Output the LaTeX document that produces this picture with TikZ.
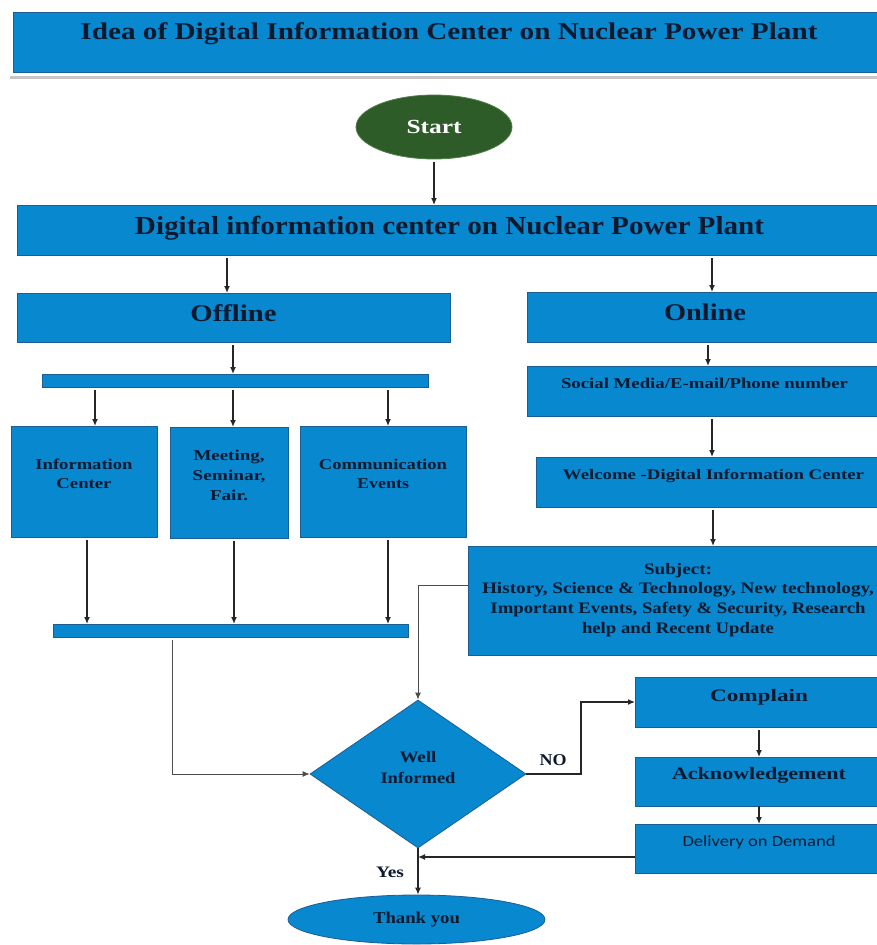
\documentclass[tikz,border=0pt]{standalone}
\usepackage{fontspec}
\setmainfont{Liberation Serif}
\newfontfamily\calfont{Carlito}
\usepackage{graphicx}
\usetikzlibrary{shapes.geometric,arrows.meta}
\definecolor{blu}{HTML}{0788CF}
\definecolor{bordc}{HTML}{1B5E93}
\definecolor{tcol}{HTML}{0C1A30}
\definecolor{grn}{HTML}{2E5C28}
\definecolor{grnb}{HTML}{4F7F48}
\newcommand\rz[2]{\resizebox{#1pt}{\height}{#2}}
\newcommand\fsz[2]{\fontsize{#1pt}{#2pt}\selectfont}
\begin{document}
\begin{tikzpicture}[x=1pt,y=-1pt,
 box/.style={draw=bordc, line width=0.8pt, fill=blu, inner sep=0pt, outer sep=0pt, text=tcol, anchor=north west},
 arr/.style={draw=black!85, line width=1.3pt, shorten <=3pt, -{Latex[length=7pt,width=6pt]}},
 lbl/.style={inner sep=0pt, text=tcol, anchor=base}]
\useasboundingbox (0,0) rectangle (877,945);
\fill[white] (0,0) rectangle (877,945);
\clip (0,0) rectangle (877,945);

% column / row helper coordinates
\coordinate (c87) at (87,0);
\coordinate (c95) at (95,0);
\coordinate (c172) at (172,0);
\coordinate (c227) at (227,0);
\coordinate (c233) at (233,0);
\coordinate (c234) at (234,0);
\coordinate (c388) at (388,0);
\coordinate (c581) at (581,0);
\coordinate (c708) at (708,0);
\coordinate (c712) at (712,0);
\coordinate (c713) at (713,0);
\coordinate (y585) at (0,585);
\coordinate (y857) at (0,857);

% title
\node[box, minimum width=872pt, text height=27pt, text depth=33pt, font=\bfseries\fsz{24}{28}] (title) at (13,12)
  {\rz{737}{Idea of Digital Information Center on Nuclear Power Plant}};
\draw[line width=3pt, black!22] ([yshift=-5pt,xshift=-3pt]title.south west) -- ([yshift=-5pt]title.south east);

% start
\node[ellipse, draw=grnb, line width=0.8pt, fill=grn, minimum width=156pt, minimum height=64pt, inner sep=0pt,
      text=white, font=\bfseries\fsz{20}{24}] (start) at (434,127) {\rz{55}{Start}};

% main bar
\node[box, minimum width=865pt, text height=29pt, text depth=21pt, font=\bfseries\fsz{26}{30}] (main) at (17,205)
  {\rz{629}{Digital information center on Nuclear Power Plant}};

% offline branch
\node[box, minimum width=433pt, text height=28pt, text depth=21pt, font=\bfseries\fsz{24}{28}] (offline) at (17,293) {\rz{86}{Offline}};
\node[box, minimum width=386pt, text height=13pt, text depth=0pt] (bar1) at (42,374) {};
\node[box, minimum width=146pt, text height=43pt, text depth=68pt, font=\bfseries\fsz{15}{19}] (info) at (11,426)
  {\begin{tabular}[t]{@{}c@{}}\rz{97}{Information}\\\rz{55}{Center}\end{tabular}};
\node[box, minimum width=118pt, text height=33pt, text depth=78pt, font=\bfseries\fsz{15}{20}] (meet) at (170,427)
  {\begin{tabular}[t]{@{}c@{}}\rz{71}{Meeting,}\\\rz{73}{Seminar,}\\\rz{38}{Fair.}\end{tabular}};
\node[box, minimum width=166pt, text height=43pt, text depth=68pt, font=\bfseries\fsz{15}{19}] (comm) at (300,426)
  {\begin{tabular}[t]{@{}c@{}}\rz{128}{Communication}\\\rz{52}{Events}\end{tabular}};
\node[box, minimum width=355pt, text height=13pt, text depth=0pt] (bar2) at (53,624) {};

% online branch
\node[box, minimum width=356pt, text height=28pt, text depth=22pt, font=\bfseries\fsz{24}{28}] (online) at (527,292) {\rz{82}{Online}};
\node[box, minimum width=355pt, text height=22pt, text depth=28pt, font=\bfseries\fsz{15}{19}] (social) at (527,366)
  {\rz{287}{Social Media/E-mail/Phone number}};
\node[box, minimum width=355pt, text height=22pt, text depth=28pt, font=\bfseries\fsz{14.6}{19}] (welcome) at (536,457)
  {\rz{301}{Welcome -Digital Information Center}};
\node[box, minimum width=420pt, text height=28pt, text depth=81pt, font=\bfseries\fsz{16}{19.7}] (subject) at (468,546)
  {\begin{tabular}[t]{@{}c@{}}\rz{68}{Subject:}\\\rz{392}{History, Science \& Technology, New technology,}\\
   \rz{375}{Important Events, Safety \& Security, Research}\\\rz{192}{help and Recent Update}\end{tabular}};

% decision
\node[diamond, draw=bordc, line width=0.8pt, fill=blu, minimum width=216pt, minimum height=148pt, inner sep=0pt] (dec) at (418,774) {};
\node[lbl, font=\bfseries\fsz{16}{21}] (dect) at (418,762)
  {\begin{tabular}[t]{@{}c@{}}\rz{37}{Well}\\\rz{75}{Informed}\end{tabular}};

% complaint column
\node[box, minimum width=248pt, text height=24pt, text depth=26pt, font=\bfseries\fsz{17.5}{21}] (complain) at (635,677) {\rz{98}{Complain}};
\node[box, minimum width=248pt, text height=22pt, text depth=27pt, font=\bfseries\fsz{17.5}{21}] (ack) at (635,757) {\rz{174}{Acknowledgement}};
\node[box, minimum width=248pt, text height=22pt, text depth=27pt, font=\calfont\fsz{15.5}{19}] (deliv) at (635,824) {\rz{153}{Delivery on Demand}};

% end
\node[ellipse, draw=bordc, line width=0.8pt, fill=blu, minimum width=257pt, minimum height=49pt, inner sep=0pt,
      text=tcol, font=\bfseries\fsz{16.5}{20}] (ty) at (416.5,919.5) {\rz{87}{Thank you}};

% labels
\node[lbl, font=\bfseries\fsz{16.5}{20}] (no) at (553,765) {\rz{27}{NO}};
\node[lbl, font=\bfseries\fsz{16}{20}] (yes) at (390,877) {\rz{28}{Yes}};

% connectors
\draw[arr] (start.south) -- (start.south |- main.north);
\draw[arr] (main.south -| c227) -- (offline.north -| c227);
\draw[arr] (main.south -| c712) -- (online.north -| c712);
\draw[arr] (offline.south -| c233) -- (bar1.north -| c233);
\draw[arr] (bar1.south -| c95) -- (info.north -| c95);
\draw[arr] (bar1.south -| c233) -- (meet.north -| c233);
\draw[arr] (bar1.south -| c388) -- (comm.north -| c388);
\draw[arr] (info.south -| c87) -- (bar2.north -| c87);
\draw[arr] (meet.south -| c234) -- (bar2.north -| c234);
\draw[arr] (comm.south -| c388) -- (bar2.north -| c388);
\draw[arr, draw=black!70, line width=1pt] (bar2.south -| c172) |- (dec.west);
\draw[arr] (online.south -| c708) -- (social.north -| c708);
\draw[arr] (social.south -| c712) -- (welcome.north -| c712);
\draw[arr] (welcome.south -| c713) -- (subject.north -| c713);
\draw[arr, shorten <=0pt, draw=black!70, line width=1pt] (subject.west |- y585) -| (dec.north);
\draw[arr, shorten <=0pt] (dec.east) -- (dec.east -| c581) |- (complain.west);
\draw[arr] (complain.south) -- (ack.north);
\draw[arr, shorten <=0pt] (ack.south) -- (deliv.north);
\draw[arr, shorten <=0pt] (deliv.west |- y857) -- (dec.south |- y857);
\draw[arr, shorten <=0pt] (dec.south) -- (dec.south |- ty.north);
\end{tikzpicture}
\end{document}
